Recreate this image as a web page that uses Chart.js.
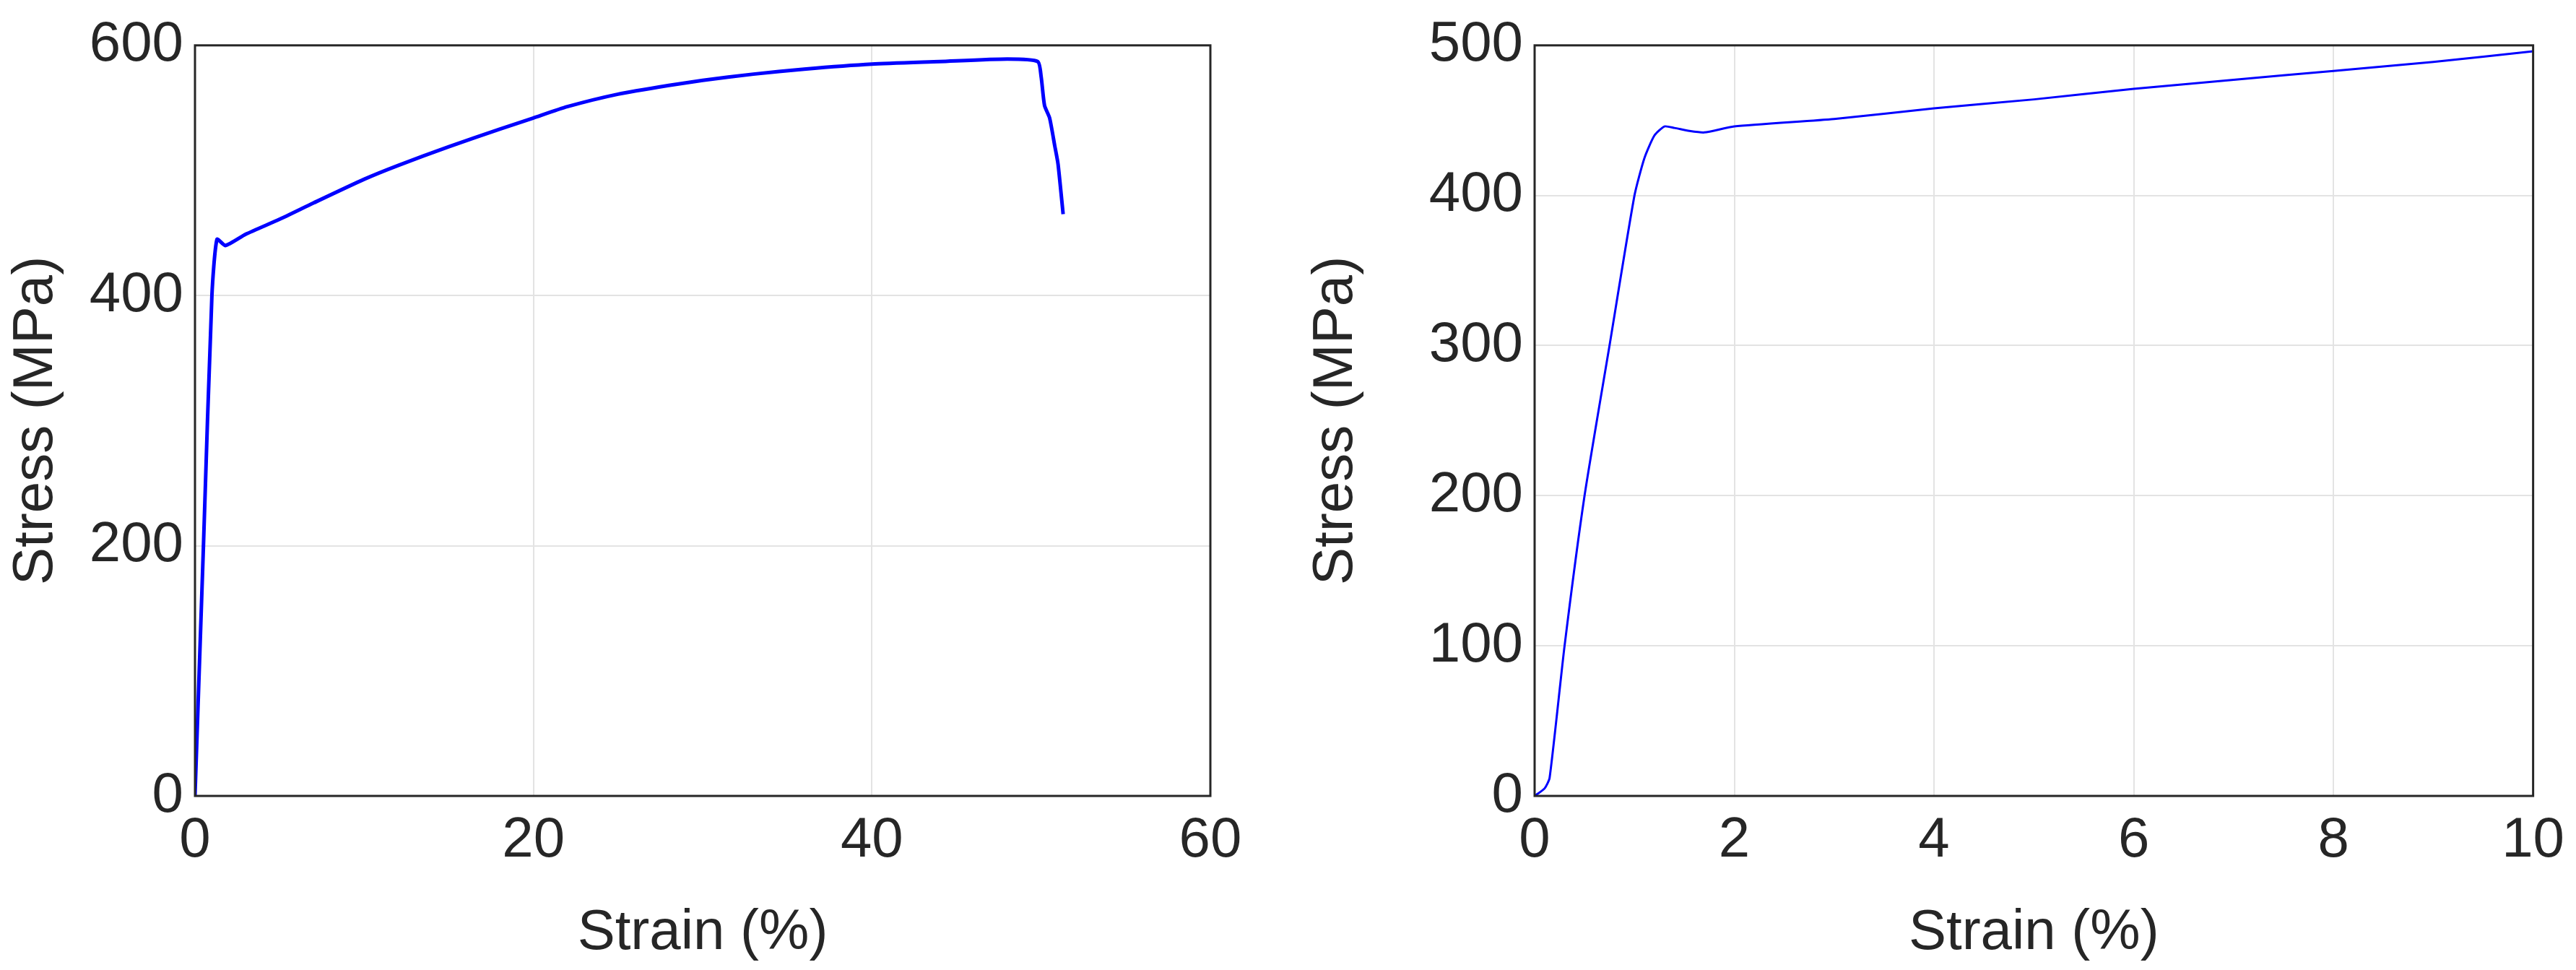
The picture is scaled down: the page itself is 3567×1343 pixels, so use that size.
<!DOCTYPE html>
<html><head><meta charset="utf-8">
<script src="https://cdn.jsdelivr.net/npm/chart.js@4"></script>
<style>
body{margin:0;background:#fff;width:3567px;height:1343px;position:relative;overflow:hidden}
.box{position:absolute;top:0;height:1343px}
</style></head><body>
<div class="box" style="left:0;width:1760px"><canvas id="c1"></canvas></div>
<div class="box" style="left:1800px;width:1767px"><canvas id="c2"></canvas></div>
<script>
// full test curve
var fullStrain = [0, 0.5, 1.0, 1.3, 1.8, 3, 5, 7, 10, 12, 15, 18, 20, 22, 25, 28, 30, 33, 36, 40, 44, 48, 49.8, 50.0, 50.2, 50.5, 50.8, 51.0, 51.3];
var fullStress = [0, 200, 400, 445, 440, 449, 461, 474, 493, 504, 519, 533, 542, 551, 561, 568, 572, 577, 581, 585, 587, 589, 587, 575, 552, 542, 520, 505, 465];
// zoom on first 10 %
var zoomStrain = [0, 0.1, 0.15, 0.3, 0.5, 0.75, 1.0, 1.1, 1.2, 1.3, 1.4, 1.55, 1.7, 2, 3, 4, 5, 6, 7, 8, 9, 10];
var zoomStress = [0, 5, 12, 100, 200, 300, 400, 425, 440, 446, 445, 443, 442, 446, 451, 458, 464, 471, 477, 483, 489, 496];

var frame = {
    id: 'frame',
    afterDraw: function (chart) {
        var a = chart.chartArea, c = chart.ctx;
        c.save();
        c.strokeStyle = '#262626';
        c.lineWidth = 3;
        c.strokeRect(a.left, a.top, a.right - a.left, a.bottom - a.top);
        c.restore();
    }
};

function makeChart(id, xs, ys, xmax, xstep, ymax, ystep, yw, rightPad, lw) {
    var pts = xs.map(function (x, i) { return {x: x, y: ys[i]}; });
    var font = {family: 'Liberation Sans, Arial', size: 78};
    return new Chart(document.getElementById(id), {
        type: 'scatter',
        data: {datasets: [{data: pts, showLine: true, borderColor: '#0000ff', borderWidth: lw, pointRadius: 0, tension: 0.2}]},
        options: {
            responsive: true, maintainAspectRatio: false, animation: false,
            layout: {padding: {top: 30, right: rightPad, bottom: 0, left: 0}},
            plugins: {legend: {display: false}, tooltip: {enabled: false}},
            scales: {
                x: {
                    min: 0, max: xmax,
                    ticks: {stepSize: xstep, color: '#262626', font: font, padding: 16, maxRotation: 0},
                    grid: {color: '#e3e3e3', lineWidth: 2, tickLength: 0},
                    border: {display: false},
                    title: {display: true, text: 'Strain (%)', color: '#262626', font: font, padding: {top: 30}},
                    afterFit: function (s) { s.height = 241; }
                },
                y: {
                    min: 0, max: ymax,
                    ticks: {stepSize: ystep, color: '#262626', font: font, padding: 16},
                    grid: {color: '#e3e3e3', lineWidth: 2, tickLength: 0},
                    border: {display: false},
                    title: {display: true, text: 'Stress (MPa)', color: '#262626', font: font, padding: {bottom: 10}},
                    afterFit: function (s) { s.width = yw; }
                }
            }
        },
        plugins: [frame]
    });
}

makeChart('c1', fullStrain, fullStress, 60, 20, 600, 200, 270, 84, 5);
makeChart('c2', zoomStrain, zoomStress, 10, 2, 500, 100, 325, 45, 3);
</script>
</body></html>
